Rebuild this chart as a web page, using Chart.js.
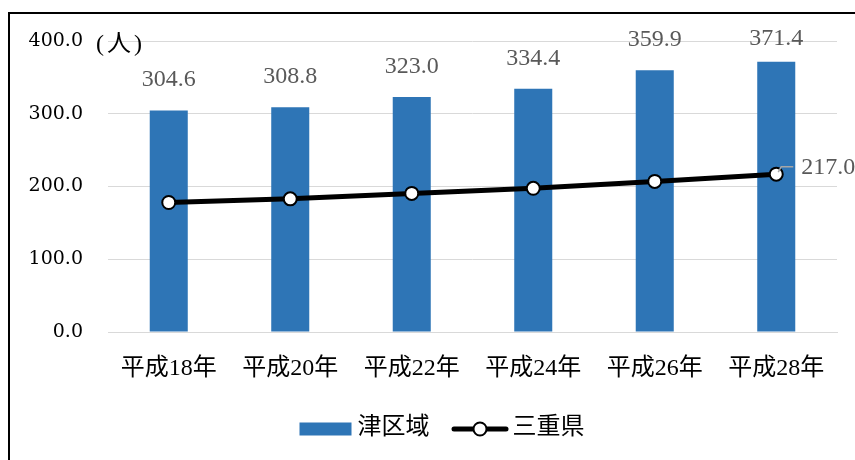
<!DOCTYPE html>
<html>
<head>
<meta charset="utf-8">
<script src="https://cdn.jsdelivr.net/npm/chart.js@4.4.1/dist/chart.umd.min.js"></script>
<style>
  html, body { margin: 0; padding: 0; background: #fff; overflow: hidden; }
  #frame { position: absolute; left: 8px; top: 12px; width: 900px; height: 500px; border: 2px solid #000; box-sizing: border-box; }
  #wrap { position: absolute; left: 0; top: 0; width: 855px; height: 460px; }
</style>
</head>
<body>
<div id="frame"></div>
<div id="wrap"><canvas id="myChart"></canvas></div>
<script>
let years = ['平成18年', '平成20年', '平成22年', '平成24年', '平成26年', '平成28年']
let tsu = [304.6, 308.8, 323.0, 334.4, 359.9, 371.4]
let mie = [178.0, 183.0, 190.5, 197.5, 207.0, 217.0]
let yTicks = [0, 100, 200, 300, 400]

const blue = '#2e75b6'
const serif = "'Liberation Serif', 'Noto Sans CJK JP', serif"

// value labels, unit text and the callout on the last point
const labelsPlugin = {
  id: 'labels',
  afterDatasetsDraw(chart) {
    const ctx = chart.ctx
    const area = chart.chartArea
    ctx.save()
    ctx.font = '24px ' + serif
    ctx.fillStyle = '#595959'
    ctx.textAlign = 'center'
    ctx.textBaseline = 'middle'
    chart.getDatasetMeta(0).data.forEach((bar, i) => {
      let y = Math.max(bar.y - 30.5, area.top - 2.5)
      ctx.fillText(tsu[i].toFixed(1), bar.x, y)
    })

    const pts = chart.getDatasetMeta(1).data
    const last = pts[pts.length - 1]
    ctx.strokeStyle = '#a6a6a6'
    ctx.lineWidth = 1.5
    ctx.beginPath()
    ctx.moveTo(last.x + 2, last.y - 2)
    ctx.lineTo(last.x + 5, last.y - 7.5)
    ctx.lineTo(last.x + 17, last.y - 7.5)
    ctx.stroke()
    ctx.textAlign = 'left'
    ctx.fillText(mie[mie.length - 1].toFixed(1), last.x + 25, last.y - 6)

    ctx.fillStyle = '#000'
    ctx.letterSpacing = '3px'
    ctx.fillText('(人)', 96, area.top + 4)
    ctx.restore()
  },
}

// legend row under the axis: bar swatch, line with marker
const legendPlugin = {
  id: 'legendRow',
  afterDraw(chart) {
    const ctx = chart.ctx
    const sets = chart.data.datasets
    const y = 429
    ctx.save()
    ctx.font = '24px ' + serif
    ctx.textBaseline = 'middle'
    ctx.textAlign = 'left'
    const items = sets.map((ds) => ({
      text: ds.label,
      w: ds.type === 'bar' ? 52 : 57,
      gap: ds.type === 'bar' ? 6 : 4,
      ds: ds,
    }))
    let total = 22 * (items.length - 1)
    items.forEach((it) => {
      total += it.w + it.gap + ctx.measureText(it.text).width
    })
    let x = 442 - total / 2
    items.forEach((it) => {
      if (it.ds.type === 'bar') {
        ctx.fillStyle = it.ds.backgroundColor
        ctx.fillRect(x, y - 6.5, it.w, 13)
      } else {
        ctx.strokeStyle = it.ds.borderColor
        ctx.lineWidth = 5
        ctx.lineCap = 'round'
        ctx.beginPath()
        ctx.moveTo(x + 2.5, y)
        ctx.lineTo(x + it.w - 2.5, y)
        ctx.stroke()
        ctx.beginPath()
        ctx.arc(x + it.w / 2, y, 6.5, 0, Math.PI * 2)
        ctx.fillStyle = '#fff'
        ctx.fill()
        ctx.lineWidth = 2
        ctx.stroke()
      }
      x += it.w + it.gap
      ctx.fillStyle = '#000'
      ctx.fillText(it.text, x, y - 1)
      x += ctx.measureText(it.text).width + 22
    })
    ctx.restore()
  },
}

const ctx = document.getElementById('myChart').getContext('2d')

const myChart = new Chart(ctx, {
  data: {
    labels: years,
    datasets: [
      {
        type: 'bar',
        label: '津区域',
        data: tsu,
        backgroundColor: blue,
        categoryPercentage: 1,
        barPercentage: 0.313,
        order: 1,
      },
      {
        type: 'line',
        label: '三重県',
        data: mie,
        borderColor: '#000',
        borderWidth: 5,
        pointRadius: 6.5,
        pointBorderWidth: 2,
        pointBackgroundColor: '#fff',
        pointBorderColor: '#000',
        order: 0,
      },
    ],
  },
  options: {
    responsive: true,
    maintainAspectRatio: false,
    animation: false,
    layout: { padding: { left: 0, right: 18, top: 41, bottom: 64 } },
    scales: {
      y: {
        min: 0,
        max: 400,
        afterBuildTicks: (scale) => {
          scale.ticks = yTicks.map((v) => ({ value: v }))
        },
        afterFit: (scale) => {
          scale.width = 108
        },
        ticks: {
          color: '#000',
          padding: 25,
          font: { family: "'DejaVu Serif', serif", size: 19 },
          callback: function (value) {
            return value.toFixed(1)
          },
        },
        grid: { color: '#d9d9d9', drawTicks: false },
        border: { display: false },
      },
      x: {
        afterFit: (scale) => {
          scale.height = 64
        },
        ticks: {
          color: '#000',
          padding: 14,
          font: { family: serif, size: 24 },
        },
        grid: { display: false },
        border: { color: '#d9d9d9' },
      },
    },
    plugins: {
      tooltip: { enabled: false },
      legend: { display: false },
    },
  },
  plugins: [labelsPlugin, legendPlugin],
})
</script>
</body>
</html>
